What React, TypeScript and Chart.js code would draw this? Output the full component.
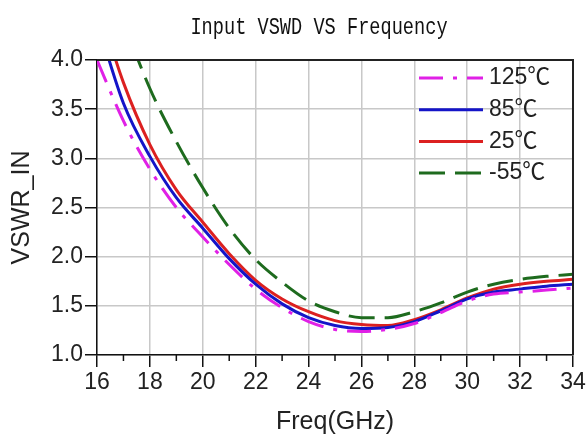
import { useEffect, useRef } from "react";
import { Chart, registerables } from "chart.js";

Chart.register(...registerables);

const freqGHz = [16, 17, 18, 19, 20, 21, 22, 23, 24, 25, 26, 27, 28, 29, 30, 31, 32, 33, 34];
const vswr125C = [4.0, 3.38, 2.89, 2.5, 2.2, 1.92, 1.67, 1.48, 1.34, 1.26, 1.24, 1.26, 1.32, 1.43, 1.55, 1.62, 1.64, 1.66, 1.68];
const vswr85C = [4.4, 3.56, 3.02, 2.6, 2.29, 1.98, 1.72, 1.52, 1.38, 1.3, 1.27, 1.28, 1.34, 1.45, 1.57, 1.64, 1.67, 1.7, 1.72];
const vswr25C = [4.6, 3.77, 3.14, 2.68, 2.35, 2.03, 1.76, 1.57, 1.44, 1.35, 1.31, 1.3, 1.36, 1.46, 1.58, 1.67, 1.72, 1.75, 1.77];
const vswrM55C = [5.2, 4.4, 3.71, 3.17, 2.7, 2.29, 1.97, 1.74, 1.55, 1.44, 1.38, 1.38, 1.44, 1.53, 1.64, 1.72, 1.77, 1.8, 1.82];
const seriesLabels = ["125℃", "85℃", "25℃", "-55℃"];
const seriesColors = ["#E020E6", "#1414C8", "#DC2020", "#1E6B1E"];
const titleText = "Input VSWD VS Frequency";
const xTitle = "Freq(GHz)";
const yTitle = "VSWR_IN";

const toPoints = (vals: number[]) => vals.map((v, i) => ({ x: freqGHz[i], y: v }));

const decorPlugin = {
  id: "decor",
  afterDraw(chart: any) {
    const { ctx, chartArea } = chart;
    const { left, right, top, bottom } = chartArea;
    ctx.save();
    // frame
    ctx.strokeStyle = "#222";
    ctx.lineWidth = 2;
    ctx.beginPath();
    ctx.moveTo(left, top);
    ctx.lineTo(right, top);
    ctx.lineTo(right, bottom);
    ctx.stroke();
    // minor ticks on x axis
    const xs = chart.scales.x;
    ctx.strokeStyle = "#111";
    ctx.lineWidth = 1.5;
    for (let v = 17; v < 34; v += 2) {
      const px = xs.getPixelForValue(v);
      ctx.beginPath();
      ctx.moveTo(px, bottom);
      ctx.lineTo(px, bottom + 6);
      ctx.stroke();
    }
    // title
    ctx.fillStyle = "#111";
    ctx.font = '23px "Liberation Mono", monospace';
    ctx.textAlign = "center";
    ctx.textBaseline = "middle";
    ctx.translate((left + right) / 2 - 16, 28);
    ctx.scale(0.81, 1);
    ctx.fillText(titleText, 0, 0);
    ctx.restore();

    // legend inside chart area
    ctx.save();
    const x0 = right - 154;
    const x1 = right - 90;
    const tx = right - 84;
    let y = top + 18;
    ctx.font = '23px "Liberation Sans", Arial, "Noto Sans CJK SC", sans-serif';
    ctx.textAlign = "left";
    ctx.textBaseline = "middle";
    chart.data.datasets.forEach((ds: any) => {
      ctx.save();
      ctx.strokeStyle = ds.borderColor;
      ctx.lineWidth = ds.borderWidth;
      ctx.setLineDash(ds.borderDash || []);
      ctx.beginPath();
      ctx.moveTo(x0, y);
      ctx.lineTo(x1, y);
      ctx.stroke();
      ctx.restore();
      ctx.fillStyle = "#222";
      ctx.fillText(ds.label, tx, y);
      y += 31.7;
    });
    ctx.restore();
  },
};

export default function App() {
  const ref = useRef<HTMLCanvasElement | null>(null);
  useEffect(() => {
    if (!ref.current) return;
    const dashes = [[24, 10, 4, 10], [], [], [26, 10]];
    const series = [vswr125C, vswr85C, vswr25C, vswrM55C];
    const tickFont = { family: '"Liberation Sans", Arial, sans-serif', size: 23 };
    const chart = new Chart(ref.current, {
      type: "line",
      data: {
        datasets: series.map((vals, i) => ({
          label: seriesLabels[i],
          data: toPoints(vals),
          borderColor: seriesColors[i],
          backgroundColor: seriesColors[i],
          borderWidth: 3,
          borderDash: dashes[i],
          pointRadius: 0,
          cubicInterpolationMode: "monotone" as const,
          fill: false,
        })),
      },
      options: {
        animation: false,
        responsive: true,
        maintainAspectRatio: false,
        layout: { padding: { top: 60, right: 15, left: 0, bottom: 0 } },
        plugins: { legend: { display: false }, title: { display: false }, tooltip: { enabled: false } },
        scales: {
          x: {
            type: "linear",
            min: 16,
            max: 34,
            afterFit: (s: any) => { s.height = 85; },
            ticks: { stepSize: 2, color: "#222", font: tickFont, maxRotation: 0, autoSkip: false, padding: 2 },
            grid: { color: "#c8c8c8", lineWidth: 1.5, tickColor: "#111", tickLength: 12 },
            border: { color: "#111", width: 1.5 },
            title: { display: true, text: xTitle, color: "#222", font: { family: '"Liberation Sans", Arial, sans-serif', size: 25 }, padding: { top: 0, bottom: 3 } },
          },
          y: {
            min: 1,
            max: 4,
            afterFit: (s: any) => { s.width = 97; },
            ticks: { stepSize: 0.5, color: "#222", font: tickFont, padding: 2, callback: (v: any) => Number(v).toFixed(1) },
            grid: { color: "#c8c8c8", lineWidth: 1.5, tickColor: "#111", tickLength: 12 },
            border: { color: "#111", width: 1.5 },
            title: { display: true, text: yTitle, color: "#222", font: { family: '"Liberation Sans", Arial, sans-serif', size: 25 }, padding: { top: 7, bottom: 0 } },
          },
        },
      },
      plugins: [decorPlugin],
    });
    return () => chart.destroy();
  }, []);
  return (
    <div style={{ position: "fixed", left: 0, top: 0, width: 588, height: 440, background: "#fff" }}>
      <canvas ref={ref} />
    </div>
  );
}
